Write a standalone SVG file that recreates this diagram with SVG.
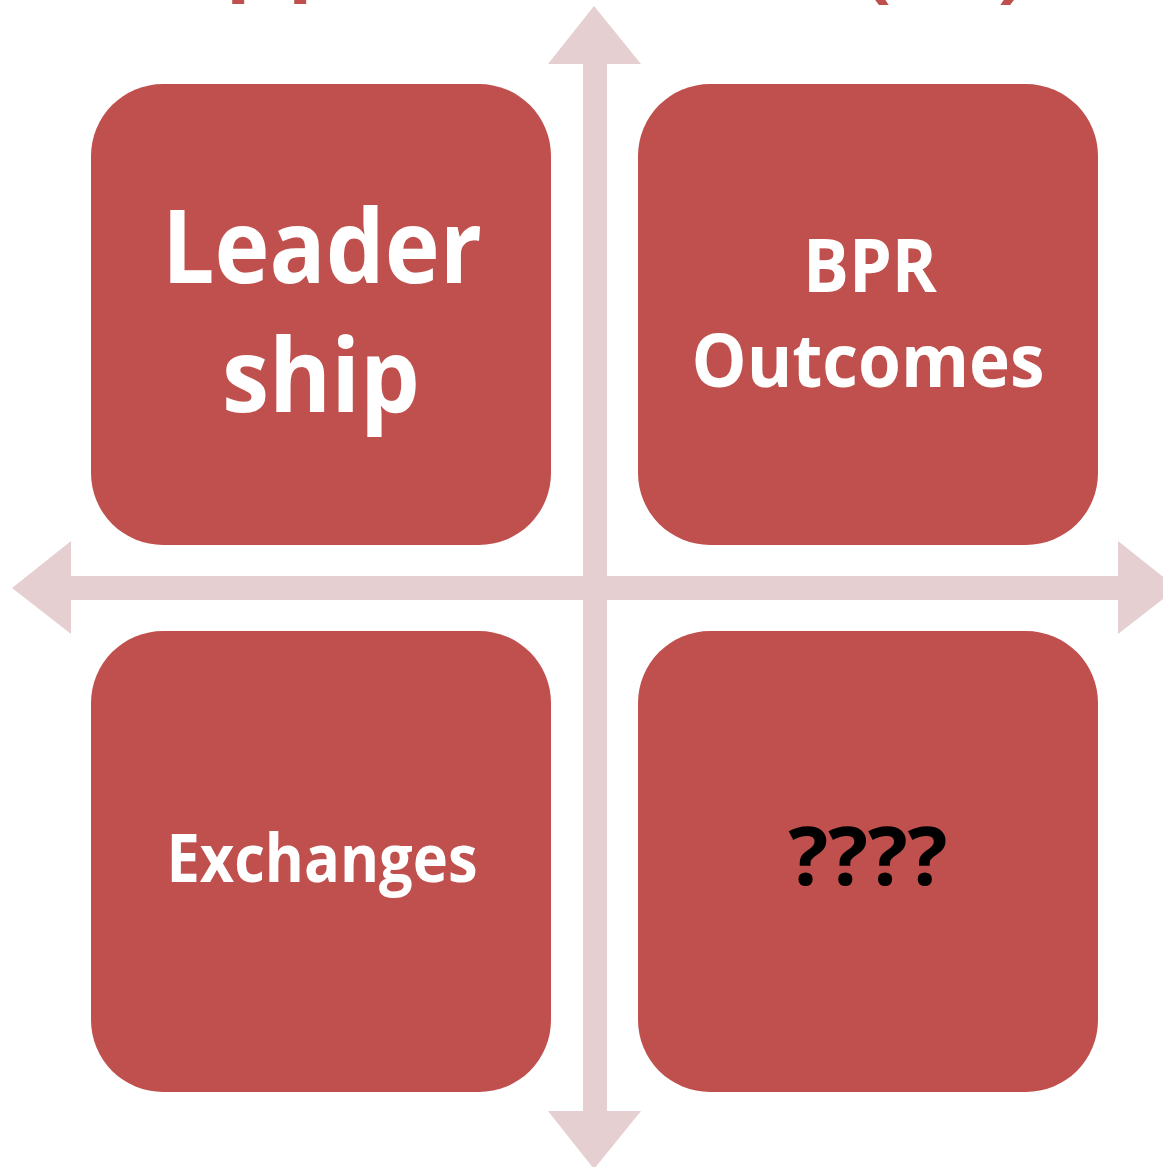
<svg xmlns="http://www.w3.org/2000/svg" width="1163" height="1167" viewBox="0 0 1163 1167">
<style>
.box{fill:#C0504D}
.arrow{fill:#E6CFD0}
.lbl{font-family:"Open Sans","Noto Sans","Liberation Sans",sans-serif;font-weight:bold;fill:#FFFFFF;text-anchor:middle}
.dark{fill:#000000}
.frag{font-family:"Open Sans","Liberation Sans",sans-serif;font-weight:bold;fill:#C0504D;font-size:80px}
</style>
<rect width="1163" height="1167" fill="#FFFFFF"/>
<g id="cut-text">
<text class="frag" x="226" y="-15">p</text>
<text class="frag" x="288" y="-15">p</text>
<text class="frag" x="864" y="-8">(</text>
<text class="frag" x="998" y="-8">)</text>
</g>
<g id="connectors">
<polygon class="arrow" points="594,6 641,64 607,64 607,1111 641,1111 594,1169 548,1111 583,1111 583,64 548,64"/>
<polygon class="arrow" points="12,588 71,541 71,576 1118,576 1118,541 1177,588 1118,634 1118,600 71,600 71,634"/>
</g>
<g id="node-leadership">
<rect class="box" x="91" y="84" width="460" height="461" rx="72" ry="72"/>
<text class="lbl" x="322" y="283" font-size="103" textLength="320" lengthAdjust="spacingAndGlyphs">Leader</text>
<text class="lbl" x="321" y="412" font-size="103" textLength="198" lengthAdjust="spacingAndGlyphs">ship</text>
</g>
<g id="node-bpr">
<rect class="box" x="638" y="84" width="460" height="461" rx="72" ry="72"/>
<text class="lbl" x="870" y="292" font-size="74" textLength="134" lengthAdjust="spacingAndGlyphs">BPR</text>
<text class="lbl" x="868" y="387" font-size="74" textLength="353" lengthAdjust="spacingAndGlyphs">Outcomes</text>
</g>
<g id="node-exchanges">
<rect class="box" x="91" y="631" width="460" height="461" rx="72" ry="72"/>
<text class="lbl" x="322" y="882" font-size="66" textLength="311" lengthAdjust="spacingAndGlyphs">Exchanges</text>
</g>
<g id="node-unknown">
<rect class="box" x="638" y="631" width="460" height="461" rx="72" ry="72"/>
<text class="lbl dark" x="868" y="885" font-size="80" textLength="159" lengthAdjust="spacingAndGlyphs">????</text>
</g>
</svg>
